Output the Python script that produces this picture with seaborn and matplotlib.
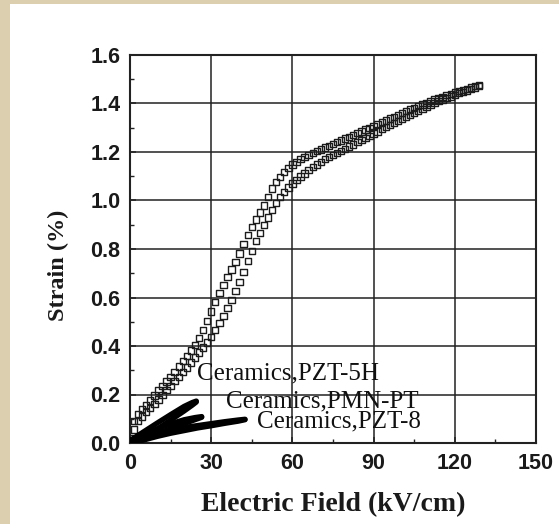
import numpy as np
import pandas as pd
import matplotlib.pyplot as plt
import seaborn as sns
from matplotlib.patches import Rectangle
from matplotlib.ticker import MultipleLocator, FormatStrFormatter

# single crystal strain loop, field in kV/cm, strain in %
field = [0, 1.5, 3, 4.5, 6, 7.5, 9, 10.5, 12, 13.5, 15, 16.5, 18, 19.5, 21, 22.5, 24,
         25.5, 27, 28.5, 30, 31.5, 33, 34.5, 36, 37.5, 39, 40.5, 42, 43.5, 45, 46.5, 48,
         49.5, 51, 52.5, 54, 55.5, 57, 58.5, 60, 61.5, 63, 64.5, 66, 67.5, 69, 70.5, 72,
         73.5, 75, 76.5, 78, 79.5, 81, 82.5, 84, 85.5, 87, 88.5, 90, 91.5, 93, 94.5, 96,
         97.5, 99, 100.5, 102, 103.5, 105, 106.5, 108, 109.5, 111, 112.5, 114, 115.5,
         117, 118.5, 120, 121.5, 123, 124.5, 126, 127.5, 129]
strain_up = [0.0, 0.055, 0.09, 0.11, 0.127, 0.145, 0.162, 0.18, 0.199, 0.218, 0.236,
             0.255, 0.273, 0.292, 0.311, 0.332, 0.352, 0.373, 0.394, 0.415, 0.436, 0.465,
             0.494, 0.524, 0.556, 0.589, 0.626, 0.665, 0.706, 0.75, 0.792, 0.832, 0.866,
             0.899, 0.93, 0.96, 0.99, 1.014, 1.035, 1.054, 1.07, 1.085, 1.099, 1.112, 1.125,
             1.137, 1.149, 1.16, 1.17, 1.179, 1.188, 1.197, 1.205, 1.213, 1.222, 1.231,
             1.24, 1.249, 1.258, 1.267, 1.276, 1.285, 1.294, 1.303, 1.312, 1.32, 1.329,
             1.337, 1.345, 1.353, 1.362, 1.37, 1.378, 1.386, 1.394, 1.401, 1.409, 1.416,
             1.423, 1.429, 1.436, 1.442, 1.448, 1.454, 1.46, 1.466, 1.472]
strain_down = [0.02, 0.09, 0.12, 0.141, 0.157, 0.176, 0.196, 0.216, 0.235, 0.254, 0.273,
               0.294, 0.315, 0.337, 0.358, 0.381, 0.405, 0.434, 0.466, 0.504, 0.542, 0.582,
               0.618, 0.651, 0.685, 0.715, 0.747, 0.782, 0.82, 0.858, 0.892, 0.922, 0.95,
               0.98, 1.015, 1.049, 1.075, 1.098, 1.118, 1.135, 1.148, 1.159, 1.17, 1.179,
               1.188, 1.196, 1.203, 1.21, 1.218, 1.225, 1.233, 1.24, 1.248, 1.255, 1.263,
               1.27, 1.278, 1.285, 1.293, 1.3, 1.308, 1.315, 1.323, 1.33, 1.338, 1.345,
               1.353, 1.36, 1.368, 1.375, 1.382, 1.389, 1.396, 1.403, 1.41, 1.416, 1.422,
               1.428, 1.434, 1.44, 1.446, 1.451, 1.456, 1.461, 1.466, 1.471, 1.476]

# ceramics (thick black bundles)
pzt5h_field = [0, 5, 10, 15, 20, 23, 24.5]
pzt5h_up = [0.0, 0.026, 0.057, 0.094, 0.132, 0.156, 0.169]
pzt5h_down = [0.01, 0.046, 0.082, 0.117, 0.151, 0.167, 0.173]
pmnpt_field = [0, 5, 10, 15, 20, 24, 26.5]
pmnpt_up = [0.0, 0.016, 0.037, 0.059, 0.08, 0.096, 0.106]
pmnpt_down = [0.008, 0.033, 0.058, 0.079, 0.096, 0.105, 0.109]
pzt8_field = [0, 5, 10, 15, 20, 25, 30, 35, 40, 42.5]
pzt8_up = [0.0, 0.012, 0.027, 0.04, 0.051, 0.062, 0.071, 0.081, 0.09, 0.096]
pzt8_down = [0.008, 0.025, 0.041, 0.054, 0.064, 0.072, 0.08, 0.088, 0.095, 0.098]

labels = ['Ceramics,PZT-5H', 'Ceramics,PMN-PT', 'Ceramics,PZT-8']
label_x = [24.6, 35.5, 46.8]
label_y = [0.287, 0.173, 0.087]

sns.set_theme(style="white")
plt.rcParams['font.family'] = ['Liberation Sans', 'DejaVu Sans']

fig = plt.figure(figsize=(5.59, 5.24), dpi=100, facecolor='#dccfb0')
fig.patches.append(Rectangle((10 / 559, 0), 1, 1 - 4 / 524, transform=fig.transFigure,
                             facecolor='white', edgecolor='none', zorder=-10))
ax = fig.add_axes([130 / 559, 1 - 443 / 524, 406 / 559, 388 / 524])
ax.set_facecolor('white')

crystal = pd.DataFrame({'field': field + field, 'strain': strain_up + strain_down})
sns.scatterplot(data=crystal, x='field', y='strain', marker='s', s=21,
                facecolor='none', edgecolor='#1c1c1c', linewidth=1.0, ax=ax, zorder=3)

for f, up, down in [(pzt5h_field, pzt5h_up, pzt5h_down),
                    (pmnpt_field, pmnpt_up, pmnpt_down),
                    (pzt8_field, pzt8_up, pzt8_down)]:
    for branch in (up, down):
        sns.lineplot(x=f, y=branch, color='black', linewidth=3.8, sort=False,
                     estimator=None, solid_capstyle='round', ax=ax, zorder=4)

for txt, tx, ty in zip(labels, label_x, label_y):
    ax.text(tx, ty, txt, fontsize=18, family='Liberation Serif', color='#111',
            ha='left', va='center', zorder=5)

ax.set_xlim(0, 150)
ax.set_ylim(0, 1.6)
ax.xaxis.set_major_locator(MultipleLocator(30))
ax.xaxis.set_minor_locator(MultipleLocator(15))
ax.yaxis.set_major_locator(MultipleLocator(0.2))
ax.yaxis.set_minor_locator(MultipleLocator(0.1))
ax.yaxis.set_major_formatter(FormatStrFormatter('%.1f'))
ax.grid(True, which='major', color='#222222', linewidth=1.1)
ax.set_axisbelow(True)
ax.tick_params(which='both', direction='in', color='#222222', bottom=True, left=True)
ax.tick_params(which='major', length=4, width=1.1, pad=7)
ax.tick_params(which='minor', length=3, width=1.0)
for lab in ax.get_xticklabels() + ax.get_yticklabels():
    lab.set_fontsize(15.5)
    lab.set_fontweight('bold')
    lab.set_color('#1a1a1a')
for sp in ax.spines.values():
    sp.set_linewidth(1.5)
    sp.set_color('#222222')

ax.set_xlabel('Electric Field (kV/cm)', fontsize=20, fontweight='bold',
              family='Liberation Serif', color='#1a1a1a')
ax.set_ylabel('Strain (%)', fontsize=17.5, fontweight='bold',
              family='Liberation Serif', color='#1a1a1a')
ax.xaxis.set_label_coords(0.501, -0.16)
ax.xaxis.label.set_verticalalignment('center')
ax.yaxis.set_label_coords(-0.177, 0.459)
ax.yaxis.label.set_verticalalignment('center')

fig.savefig('out.png', dpi=100, facecolor=fig.get_facecolor())
